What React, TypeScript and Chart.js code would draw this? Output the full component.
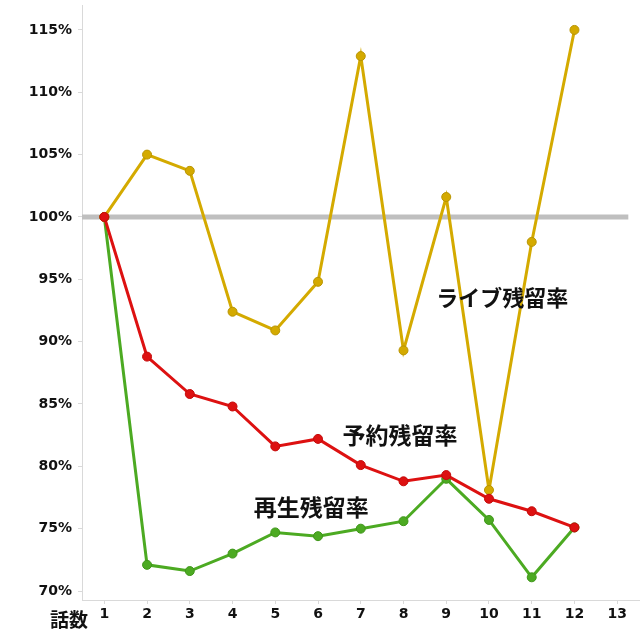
import React, { useEffect, useRef } from 'react';
import { Chart, registerables } from 'chart.js';

Chart.register(...registerables);

const EPISODES = [1, 2, 3, 4, 5, 6, 7, 8, 9, 10, 11, 12];
const LIVE = [100, 105.0, 103.7, 92.4, 90.9, 94.8, 112.9, 89.3, 101.6, 78.1, 98.0, 115.0];
const RESERVE = [100, 88.8, 85.8, 84.8, 81.6, 82.2, 80.1, 78.8, 79.3, 77.4, 76.4, 75.1];
const PLAYBACK = [100, 72.1, 71.6, 73.0, 74.7, 74.4, 75.0, 75.6, 79.0, 75.7, 71.1, 75.1];
const X_TICKS = [1, 2, 3, 4, 5, 6, 7, 8, 9, 10, 11, 12, 13];
const Y_TICKS = [70, 75, 80, 85, 90, 95, 100, 105, 110, 115];
const BASELINE = 100;
const BASELINE_RANGE = [0.47, 13.26];
const X_TITLE = '話数';
const SERIES_LABELS = [
  { text: 'ライブ残留率', x: 10.31, y: 93.55, size: 22 },
  { text: '予約残留率', x: 7.92, y: 82.5, size: 23 },
  { text: '再生残留率', x: 5.84, y: 76.7, size: 23 },
];

const toPoints = (vals: number[]) => vals.map((v, i) => ({ x: EPISODES[i], y: v }));

const labelPlugin = {
  id: 'seriesLabels',
  afterDatasetsDraw(chart: any) {
    const { ctx, scales } = chart;
    ctx.save();
    ctx.fillStyle = '#111';
    ctx.textAlign = 'center';
    ctx.textBaseline = 'middle';
    SERIES_LABELS.forEach((l) => {
      ctx.font = `bold ${l.size}px "Noto Sans CJK JP"`;
      ctx.fillText(l.text, scales.x.getPixelForValue(l.x), scales.y.getPixelForValue(l.y));
    });
    ctx.font = 'bold 19px "Noto Sans CJK JP"';
    ctx.fillText(X_TITLE, 69, 620);
    ctx.restore();
  },
};

export default function App() {
  const ref = useRef<HTMLCanvasElement>(null);
  useEffect(() => {
    if (!ref.current) return;
    const axisColor = '#d9d9d9';
    const tickFont = { family: '"DejaVu Sans"', size: 14, weight: 'bold' as const };
    const chart = new Chart(ref.current, {
      type: 'line',
      data: {
        datasets: [
          {
            label: '予約残留率',
            data: toPoints(RESERVE),
            borderColor: '#dd1111',
            backgroundColor: '#dd1111',
            pointBorderColor: '#c40a0a',
            borderWidth: 3,
            pointRadius: 4.5,
            pointBorderWidth: 1,
          },
          {
            label: 'ライブ残留率',
            data: toPoints(LIVE),
            borderColor: '#d4aa00',
            backgroundColor: '#d4aa00',
            pointBorderColor: '#b89400',
            borderWidth: 3,
            pointRadius: 4.5,
            pointBorderWidth: 1,
          },
          {
            label: '再生残留率',
            data: toPoints(PLAYBACK),
            borderColor: '#4caa22',
            backgroundColor: '#4caa22',
            pointBorderColor: '#3f961a',
            borderWidth: 3,
            pointRadius: 4.5,
            pointBorderWidth: 1,
          },
          {
            label: 'baseline',
            data: BASELINE_RANGE.map((x) => ({ x, y: BASELINE })),
            borderColor: '#bfbfbf',
            borderWidth: 5,
            pointRadius: 0,
          },
        ],
      },
      options: {
        animation: false,
        responsive: false,
        maintainAspectRatio: false,
        layout: { autoPadding: false, padding: { top: 5, right: 1, left: 0, bottom: 0 } },
        plugins: { legend: { display: false }, tooltip: { enabled: false } },
        scales: {
          x: {
            type: 'linear',
            min: 0.478,
            max: 13.51,
            afterBuildTicks: (s: any) => {
              s.ticks = X_TICKS.map((v) => ({ value: v }));
            },
            afterFit: (s: any) => {
              s.height = 40;
              s.paddingLeft = 0;
              s.paddingRight = 0;
            },
            grid: { display: true, drawOnChartArea: false, tickLength: 4, color: axisColor },
            border: { display: true, color: axisColor, width: 1 },
            ticks: { font: tickFont, color: '#111', padding: 2, maxRotation: 0 },
          },
          y: {
            type: 'linear',
            min: 69.28,
            max: 117.0,
            afterBuildTicks: (s: any) => {
              s.ticks = Y_TICKS.map((v) => ({ value: v }));
            },
            afterFit: (s: any) => {
              s.width = 82;
              s.paddingTop = 0;
              s.paddingBottom = 0;
            },
            grid: { display: true, drawOnChartArea: false, tickLength: 4, color: axisColor },
            border: { display: true, color: axisColor, width: 1 },
            ticks: { font: tickFont, color: '#111', padding: 6, callback: (v: any) => `${v}%` },
          },
        },
      },
      plugins: [labelPlugin],
    });
    return () => chart.destroy();
  }, []);
  return (
    <div style={{ position: 'fixed', left: 0, top: 0, width: 640, height: 640, background: '#fff' }}>
      <canvas ref={ref} width={640} height={640} style={{ width: 640, height: 640 }} />
    </div>
  );
}
